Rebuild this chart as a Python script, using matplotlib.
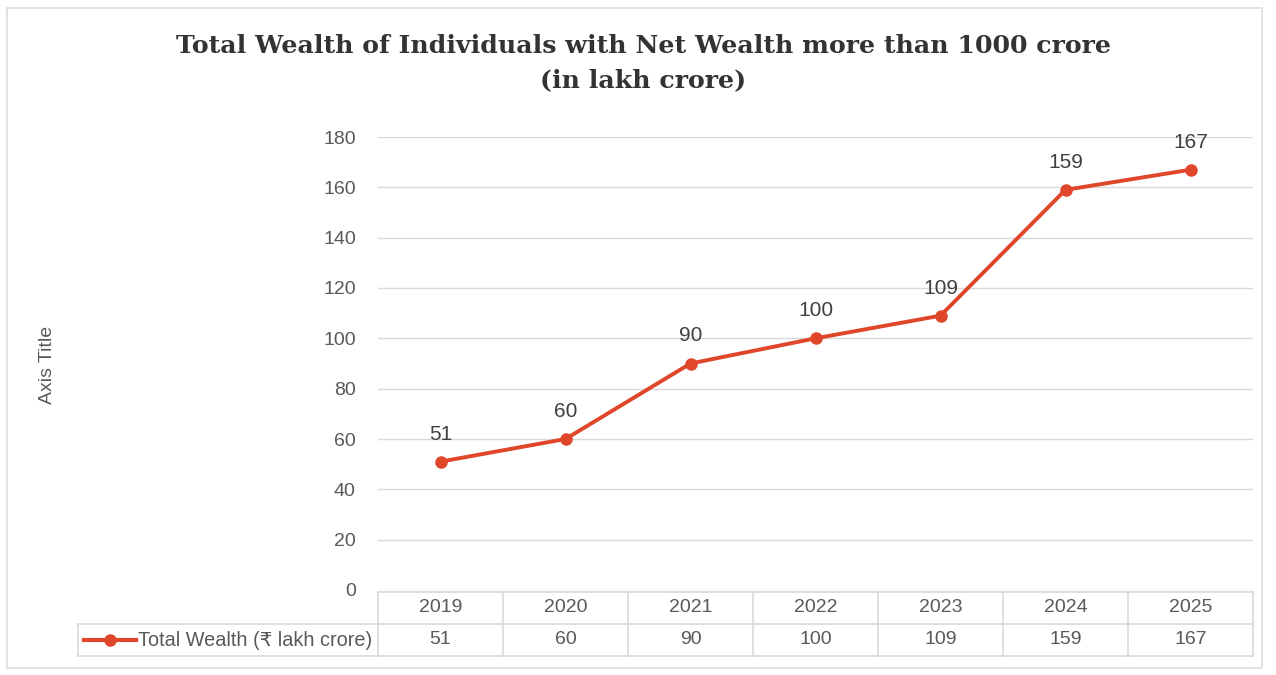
import matplotlib.pyplot as plt
from matplotlib.patches import Rectangle
from matplotlib.lines import Line2D

years = ["2019", "2020", "2021", "2022", "2023", "2024", "2025"]
wealth = [51, 60, 90, 100, 109, 159, 167]
series_name = "Total Wealth (\u20b9 lakh crore)"

W, H = 1276, 675
line_color = "#E0462A"
grid_color = "#d9d9d9"
text_color = "#595959"
sans = ["Liberation Sans", "DejaVu Sans"]

plt.rcParams["font.family"] = sans

fig = plt.figure(figsize=(W / 100, H / 100), dpi=100)
fig.patch.set_facecolor("white")


def fbox(x0, y0, x1, y1):
    # pixel box (top-left origin) -> figure fraction [left, bottom, width, height]
    return [x0 / W, 1 - y1 / H, (x1 - x0) / W, (y1 - y0) / H]


# outer frame
fig.patches.append(Rectangle((7 / W, 1 - 668 / H), (1262 - 7) / W, (668 - 8) / H,
                             transform=fig.transFigure, fill=False,
                             edgecolor="#dddddd", linewidth=1.2))

# title
fig.text(643 / W, 1 - 46 / H, "Total Wealth of Individuals with Net Wealth more than 1000 crore",
         ha="center", va="center", fontsize=18.2, fontweight="bold",
         family="DejaVu Serif", color="#333333")
fig.text(643 / W, 1 - 80 / H, "(in lakh crore)", ha="center", va="center",
         fontsize=18.2, fontweight="bold", family="DejaVu Serif", color="#333333")

# main plot
ax = fig.add_axes(fbox(378, 137, 1253, 590))
x = range(len(years))
ax.plot(x, wealth, color=line_color, linewidth=2.8, marker="o", markersize=8, zorder=3)
for xi, v in zip(x, wealth):
    ax.annotate(str(v), (xi, v), xytext=(0, 13), textcoords="offset points",
                ha="center", va="bottom", fontsize=15, color="#404040")
ax.set_xlim(-0.5, len(years) - 0.5)
ax.set_ylim(0, 180)
ax.set_yticks(range(0, 181, 20))
ax.set_xticks([])
ax.grid(axis="y", color=grid_color, linewidth=1)
ax.set_axisbelow(True)
for s in ax.spines.values():
    s.set_visible(False)
ax.tick_params(axis="y", length=0, pad=16, labelsize=14, labelcolor=text_color)

fig.text(48 / W, 1 - 365 / H, "Axis Title", rotation=90, ha="center", va="center",
         fontsize=14, color=text_color)

# data table under the axis
tab = fig.add_axes(fbox(78, 592, 1253, 656))
legend_w = 300 / 125
tab.set_xlim(-0.5 - legend_w, len(years) - 0.5)
tab.set_ylim(0, 2)
tab.axis("off")
kw = dict(color=grid_color, linewidth=1.2, clip_on=False)
tab.plot([-0.5, len(years) - 0.5], [2, 2], **kw)
tab.plot([-0.5 - legend_w, len(years) - 0.5], [1, 1], **kw)
tab.plot([-0.5 - legend_w, len(years) - 0.5], [0, 0], **kw)
tab.plot([-0.5 - legend_w] * 2, [0, 1], **kw)
for i in range(len(years) + 1):
    tab.plot([i - 0.5, i - 0.5], [0, 2], **kw)
for i, (yr, v) in enumerate(zip(years, wealth)):
    tab.text(i, 1.5, yr, ha="center", va="center", fontsize=14, color=text_color)
    tab.text(i, 0.5, str(v), ha="center", va="center", fontsize=14, color=text_color)

# legend key
kx0 = -0.5 - legend_w + 6 / 125
tab.add_line(Line2D([kx0, kx0 + 52 / 125], [0.5, 0.5], color=line_color, linewidth=3))
tab.plot([kx0 + 26 / 125], [0.5], marker="o", markersize=8, color=line_color)
tab.text(kx0 + 54 / 125, 0.5, series_name, ha="left", va="center", fontsize=14.3,
         color=text_color)

fig.savefig("out.png", dpi=100)
